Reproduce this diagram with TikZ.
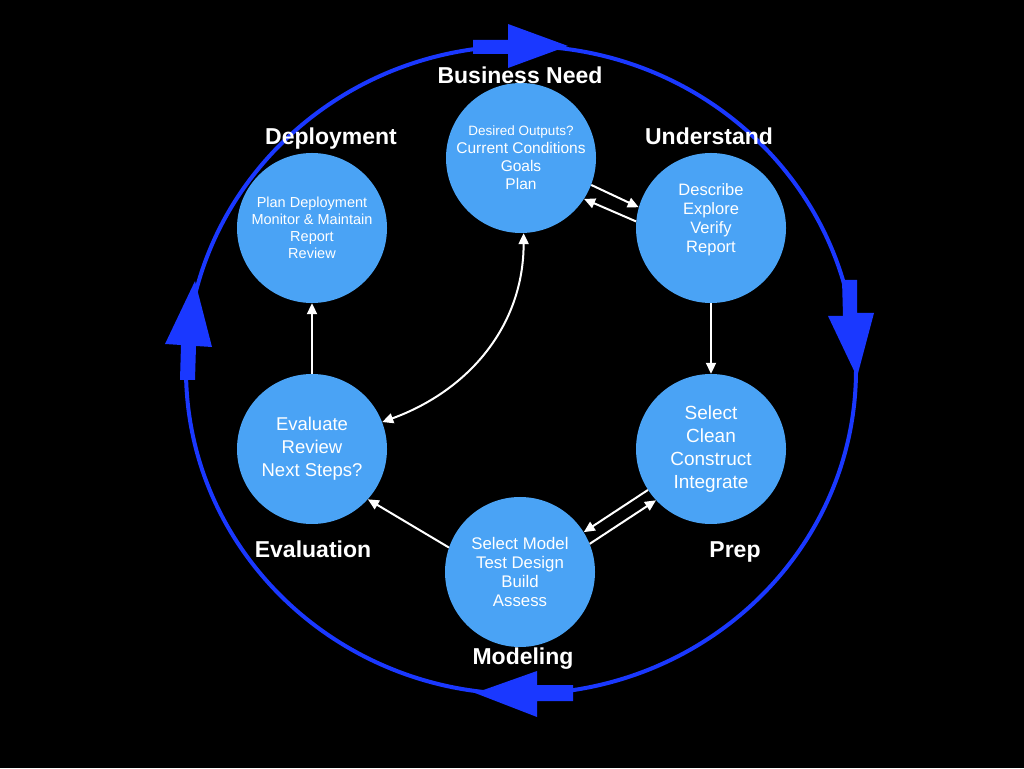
\documentclass[tikz,border=0pt]{standalone}
\usepackage{fontspec}
\setmainfont{Liberation Sans}
\usetikzlibrary{arrows.meta}
\definecolor{ringblue}{RGB}{26,56,255}
\definecolor{stepblue}{RGB}{74,163,245}
\tikzset{
	phase/.style={circle, fill=stepblue, minimum size=150pt, inner sep=0pt, text=white, align=center},
	title/.style={text=white, anchor=base, font=\bfseries\fontsize{23}{26}\selectfont},
	flow/.style={draw=white, line width=2pt, -{Triangle[length=11pt,width=10pt]}},
	ringarrow/.style={fill=ringblue}
}
\begin{document}
\begin{tikzpicture}[x=1pt,y=1pt]
	\fill[black] (0,0) rectangle (1024,768);
	\useasboundingbox (0,0) rectangle (1024,768);
	\draw[ringblue, line width=4pt] (521,398) ellipse [x radius=335pt, y radius=324pt];
	\fill[ringarrow] (473,728) -- (508,728) -- (508,744) -- (568,722) -- (508,700) -- (508,714) -- (473,714) -- cycle;
	\fill[ringarrow] (842,488) -- (857,488) -- (857,455) -- (874,455) -- (857,391) -- (828,452) -- (843,452) -- cycle;
	\fill[ringarrow] (573,83) -- (537,83) -- (537,97) -- (475,75) -- (537,51) -- (537,67) -- (573,67) -- cycle;
	\fill[ringarrow] (180,388) -- (195,388) -- (196,422) -- (212,421) -- (195,487) -- (165,424) -- (181,423) -- cycle;

	\node[phase, font=\fontsize{15.5}{18}\selectfont] (bn) at (521,610) {{\fontsize{13.5}{18}\selectfont Desired Outputs?}\\Current Conditions\\Goals\\Plan};
	\node[phase, font=\fontsize{16.5}{19}\selectfont, text depth=20pt] (und) at (711,540) {Describe\\Explore\\Verify\\Report};
	\node[phase, font=\fontsize{19}{23}\selectfont] (prep) at (711,319) {Select\\Clean\\Construct\\Integrate};
	\node[phase, font=\fontsize{16.8}{19}\selectfont] (model) at (520,196) {Select Model\\Test Design\\Build\\Assess};
	\node[phase, font=\fontsize{18.5}{23}\selectfont] (evalu) at (312,319) {Evaluate\\Review\\Next Steps?};
	\node[phase, font=\fontsize{14.5}{17}\selectfont] (dep) at (312,540) {Plan Deployment\\Monitor \& Maintain\\Report\\Review};

	\node[title] (bntitle) at (520,684) {Business Need};
	\node[title] (undtitle) at (709,623) {Understand};
	\node[title] (deptitle) at (331,623) {Deployment};
	\node[title] (evaltitle) at (313,210) {Evaluation};
	\node[title] (preptitle) at (735,210) {Prep};
	\node[title] (modeltitle) at (523,104) {Modeling};

	\draw[flow] (bn.-21) -- (und.164);
	\draw[flow] (und.175) -- (bn.-33);
	\draw[flow] (und.south) -- (prep.north);
	\draw[flow] (prep.213) -- (model.32);
	\draw[flow] (model.22) -- (prep.223);
	\draw[flow] (model.161) -- (evalu.-42);
	\draw[flow] (evalu.north) -- (dep.south);
	\draw[flow, {Triangle[length=11pt,width=10pt]}-{Triangle[length=11pt,width=10pt]}] (bn.-88) to[out=-90, in=20] (evalu.21);
\end{tikzpicture}
\end{document}
